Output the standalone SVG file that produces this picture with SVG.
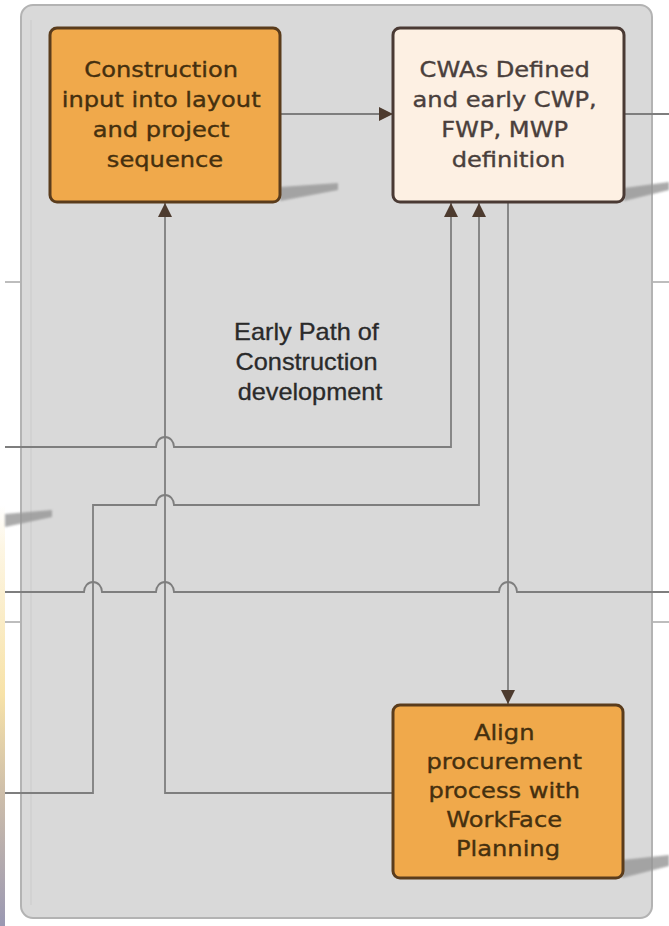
<svg xmlns="http://www.w3.org/2000/svg" width="669" height="926" viewBox="0 0 669 926">
  <defs>
    <style>
      .wire { fill: none; stroke: #7e7e7e; stroke-width: 1.8; }
      .stub { fill: none; stroke: #a8a8a8; stroke-width: 1.6; }
      .box-o { fill: #f0a94b; stroke: #5a3c1c; stroke-width: 3; }
      .box-c { fill: #fdf0e3; stroke: #4a3a34; stroke-width: 3; }
      .txt-o { font-family: "DejaVu Sans", Verdana, sans-serif; font-size: 21px; fill: #45300f; stroke: #45300f; stroke-width: 0.35; text-anchor: middle; }
      .txt-c { font-family: "DejaVu Sans", Verdana, sans-serif; font-size: 21px; fill: #4a3f3c; stroke: #4a3f3c; stroke-width: 0.35; text-anchor: middle; }
      .lbl { font-family: "Liberation Sans", Arial, sans-serif; font-size: 23px; fill: #2a2a2a; stroke: #2a2a2a; stroke-width: 0.3; text-anchor: middle; }
      .shadow { fill: #969696; opacity: 0.8; filter: url(#soft); }
    </style>
    <marker id="arrow" viewBox="0 0 10 10" refX="10" refY="5" markerWidth="14" markerHeight="14" markerUnits="userSpaceOnUse" orient="auto">
      <path d="M0,0 L10,5 L0,10 z" fill="#4d3b2f"/>
    </marker>
    <filter id="soft" x="-20%" y="-50%" width="140%" height="200%">
      <feGaussianBlur stdDeviation="1.3"/>
    </filter>
    <linearGradient id="edge" x1="0" y1="0" x2="0" y2="1">
      <stop offset="0" stop-color="#ffffff"/>
      <stop offset="0.1" stop-color="#fdf6e4"/>
      <stop offset="0.45" stop-color="#f7e2a8"/>
      <stop offset="0.7" stop-color="#cbbcaa"/>
      <stop offset="1" stop-color="#9a98b2"/>
    </linearGradient>
  </defs>

  <!-- page background and strip of the neighbouring page at the left -->
  <rect x="0" y="0" width="669" height="926" fill="#ffffff"/>
  <rect x="0" y="505" width="5" height="421" fill="url(#edge)"/>

  <!-- lane stubs outside the container -->
  <g id="stubs">
    <path class="stub" d="M5,282 H22 M652,282 H669 M5,622 H22 M652,622 H669"/>
  </g>

  <!-- container -->
  <g id="container">
    <rect x="21" y="5" width="631" height="913" rx="12" fill="#d9d9d9" stroke="#b3b3b3" stroke-width="2"/>
    <path d="M31,20 V905" fill="none" stroke="#cdcdcd" stroke-width="1.2"/>
  </g>

  <!-- connectors -->
  <g id="connectors">
    <!-- construction input -> CWAs -->
    <path class="wire" d="M280,114 H393" marker-end="url(#arrow)"/>
    <!-- CWAs out to the right -->
    <path class="wire" d="M625,114 H669"/>
    <!-- from the left into CWAs (first) -->
    <path class="wire" d="M5,447 H156 A9,10 0 0 1 174,447 H451 V203" marker-end="url(#arrow)"/>
    <!-- from the left into CWAs (second) -->
    <path class="wire" d="M5,793 H93 V505 H156 A9,10 0 0 1 174,505 H479 V203" marker-end="url(#arrow)"/>
    <!-- through line -->
    <path class="wire" d="M5,592 H84 A9,10 0 0 1 102,592 H156 A9,10 0 0 1 174,592 H499 A9,10 0 0 1 517,592 H669"/>
    <!-- CWAs -> align procurement -->
    <path class="wire" d="M508,202 V704" marker-end="url(#arrow)"/>
    <!-- align procurement -> construction input -->
    <path class="wire" d="M393,793 H165 V203" marker-end="url(#arrow)"/>
  </g>

  <!-- drop shadows -->
  <g id="shadows">
    <polygon class="shadow" points="5,514 52,510 52,517 5,527"/>
    <polygon class="shadow" points="280,187 338,183 338,190 280,201"/>
    <polygon class="shadow" points="624,188 669,182 669,190 624,201"/>
    <polygon class="shadow" points="622,860 669,855 669,866 622,878"/>
  </g>

  <g id="construction-input">
    <rect class="box-o" x="50" y="28" width="230" height="174" rx="7"/>
    <text class="txt-o" transform="translate(165 0) scale(1.15 1)">
      <tspan x="0" y="77">Construction</tspan>
      <tspan x="0" y="107">input into layout</tspan>
      <tspan x="0" y="137">and project</tspan>
      <tspan x="0" y="167">sequence</tspan>
    </text>
  </g>

  <g id="cwas-defined">
    <rect class="box-c" x="393" y="28" width="231" height="174" rx="7"/>
    <text class="txt-c" transform="translate(508.5 0) scale(1.15 1)">
      <tspan x="0" y="77">CWAs Defined</tspan>
      <tspan x="0" y="107">and early CWP,</tspan>
      <tspan x="0" y="137">FWP, MWP</tspan>
      <tspan x="0" y="167">definition</tspan>
    </text>
  </g>

  <g id="align-procurement">
    <rect class="box-o" x="393" y="705" width="230" height="173" rx="7"/>
    <text class="txt-o" transform="translate(508 0) scale(1.15 1)">
      <tspan x="0" y="740">Align</tspan>
      <tspan x="0" y="769">procurement</tspan>
      <tspan x="0" y="798">process with</tspan>
      <tspan x="0" y="827">WorkFace</tspan>
      <tspan x="0" y="856">Planning</tspan>
    </text>
  </g>

  <g id="early-path-label">
    <text class="lbl" transform="translate(310 0) scale(1.1 1)">
      <tspan x="0" y="340">Early Path of</tspan>
      <tspan x="0" y="370">Construction</tspan>
      <tspan x="0" y="400">development</tspan>
    </text>
  </g>
</svg>
